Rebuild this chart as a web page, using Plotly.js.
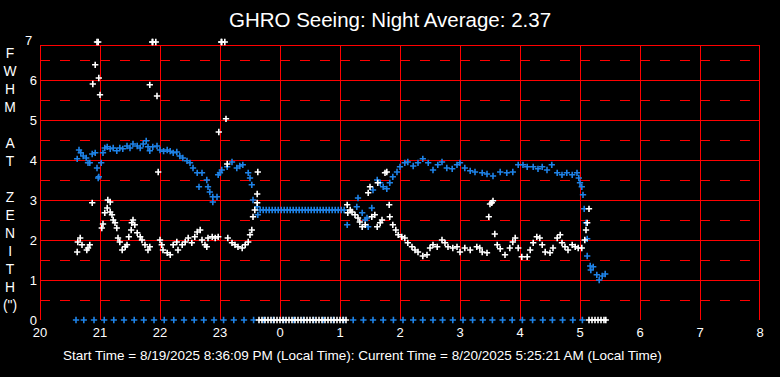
<!DOCTYPE html>
<html>
<head>
<meta charset="utf-8">
<script src="https://cdn.plot.ly/plotly-3.0.1.min.js"></script>
<style>html,body{margin:0;padding:0;background:#000;}#chart{width:780px;height:377px;}</style>
</head>
<body>
<div id="chart"></div>
<script>
// Hours since midnight of 8/19 (24 = midnight, 29 = 5 AM)
const tickHours = [20,21,22,23,24,25,26,27,28,29,30,31,32];
const tickLabels = ['20','21','22','23','0','1','2','3','4','5','6','7','8'];
const yTicks = [0,1,2,3,4,5,6];
const yHalfTicks = [0.5,1.5,2.5,3.5,4.5,5.5,6.5];

// Blue series (FWHM at zenith, arcsec)
const blueHours = [20.62,20.65,20.68,20.72,20.77,20.80,20.83,20.87,20.92,20.95,20.97,20.98,21.02,21.05,21.08,
  21.12,21.17,21.22,21.28,21.33,21.38,21.45,21.50,21.55,21.62,21.67,21.72,21.77,21.80,21.83,21.88,21.95,22.00,
  22.06,22.12,22.17,22.22,22.28,22.33,22.38,22.45,22.50,22.55,22.62,22.65,22.70,22.78,22.80,22.83,22.88,22.88,
  22.95,22.97,23.00,23.03,23.12,23.20,23.28,23.33,23.38,23.47,23.50,23.53,23.55,23.62,23.63,23.67,
  23.72,23.77,23.82,23.87,23.92,23.97,24.02,24.07,24.12,24.17,24.22,24.27,24.32,24.37,24.42,24.47,24.52,24.57,
  24.62,24.67,24.72,24.77,24.82,24.87,24.92,24.97,25.02,25.07,
  25.12,25.28,25.30,25.37,25.42,25.45,25.47,25.53,25.55,25.62,25.67,25.72,25.78,25.83,25.88,25.95,26.00,26.08,
  26.13,26.22,26.30,26.38,26.47,26.55,26.63,26.70,26.78,26.87,26.95,27.00,27.08,27.17,27.25,27.37,27.45,27.55,
  27.67,27.78,27.88,27.97,28.05,28.12,28.22,28.30,28.37,28.45,28.53,28.62,28.70,28.78,28.87,28.95,28.98,29.00,
  29.03,29.05,29.07,29.10,29.12,29.12,29.17,29.18,29.22,29.28,29.32,29.37,29.42];
const blueFwhm = [4.03,4.25,4.18,4.10,4.05,3.93,3.93,4.15,4.18,3.80,3.55,3.58,3.93,4.18,4.30,
  4.33,4.28,4.30,4.23,4.30,4.28,4.35,4.30,4.40,4.35,4.30,4.40,4.48,4.33,4.23,4.33,4.35,4.25,
  4.22,4.25,4.22,4.18,4.20,4.10,4.05,3.98,3.93,3.80,3.68,3.33,3.68,3.50,3.33,3.20,3.08,2.95,
  3.08,3.63,3.68,3.75,3.83,3.95,3.80,3.85,3.88,3.68,3.55,3.38,3.00,2.83,2.63,2.75,
  2.75,2.75,2.75,2.75,2.75,2.75,2.75,2.75,2.75,2.75,2.75,2.75,2.75,2.75,2.75,2.75,2.75,2.75,
  2.75,2.75,2.75,2.75,2.75,2.75,2.75,2.75,2.75,2.75,
  2.38,2.83,3.05,2.68,2.50,2.55,2.33,2.80,3.25,3.50,3.43,3.33,3.28,3.43,3.58,3.70,3.83,3.93,
  3.95,3.85,3.93,4.03,3.93,3.75,3.88,3.95,3.80,3.78,3.88,3.93,3.80,3.73,3.70,3.68,3.65,3.60,
  3.70,3.68,3.70,3.88,3.88,3.83,3.83,3.78,3.83,3.75,3.88,3.68,3.63,3.68,3.63,3.68,3.55,3.43,
  3.33,3.13,2.78,2.43,2.03,1.60,1.35,1.25,1.33,1.13,1.00,1.10,1.15];

// White series
const whiteHours = [20.62,20.63,20.67,20.70,20.78,20.80,20.83,20.87,20.88,20.92,20.95,20.97,20.98,21.00,21.03,
  21.05,21.08,21.12,21.13,21.17,21.17,21.20,21.22,21.25,21.28,21.30,21.33,21.37,21.42,21.45,21.48,21.52,21.53,
  21.55,21.58,21.62,21.67,21.70,21.75,21.80,21.83,21.83,21.87,21.88,21.93,21.95,21.97,22.00,22.03,22.05,22.12,
  22.17,22.22,22.28,22.30,22.37,22.42,22.47,22.53,22.58,22.62,22.67,22.70,22.75,22.78,22.80,22.87,22.92,22.97,
  22.98,23.02,23.03,23.08,23.10,23.12,23.13,23.20,23.25,23.30,23.37,23.42,23.47,23.50,23.53,23.55,23.58,23.62,
  23.62,23.63,
  25.12,25.13,25.17,25.20,25.25,25.30,25.33,25.37,25.42,25.47,25.50,25.53,25.58,25.62,25.63,25.67,25.70,25.75,
  25.78,25.82,25.83,25.88,25.93,25.97,26.03,26.08,26.13,26.20,26.25,26.30,26.38,26.45,26.50,26.55,26.62,26.70,
  26.75,26.80,26.88,26.95,27.00,27.08,27.17,27.28,27.33,27.37,27.45,27.48,27.50,27.53,27.55,27.58,27.62,27.67,
  27.75,27.83,27.88,27.92,27.97,28.03,28.12,28.17,28.22,28.28,28.33,28.37,28.42,28.50,28.55,28.62,28.67,28.70,
  28.75,28.80,28.87,28.92,28.97,29.03,29.08,29.10,29.12,29.15];
const whiteFwhm = [1.70,1.95,2.05,1.88,1.75,1.80,1.88,2.93,5.90,6.38,6.95,6.95,6.05,5.63,2.30,
  2.40,2.68,2.80,3.00,2.95,2.70,2.63,2.50,2.43,2.30,2.05,1.95,1.75,1.83,1.88,2.08,2.25,2.43,
  2.50,2.38,2.18,2.08,2.00,1.88,1.75,1.83,5.88,6.95,6.95,6.95,5.60,3.70,2.00,1.88,1.75,1.68,
  1.63,1.88,1.95,1.75,1.88,1.95,2.05,1.93,2.08,2.20,2.25,2.00,1.88,1.83,2.05,2.08,2.05,2.08,
  4.70,6.95,6.95,6.95,5.03,3.90,2.05,1.93,1.88,1.83,1.80,1.88,1.95,2.13,2.25,2.58,2.75,2.93,
  3.15,3.70,
  2.88,2.68,2.75,2.70,2.63,2.55,2.45,2.33,2.38,3.18,3.33,2.58,2.63,2.33,3.43,2.43,2.50,3.68,
  3.70,2.88,2.58,2.38,2.25,2.13,2.08,2.05,1.93,1.83,1.75,1.70,1.60,1.63,1.80,1.88,1.83,2.00,
  1.93,1.83,1.80,1.83,1.70,1.80,1.75,1.83,1.80,1.70,1.68,2.58,2.90,2.93,2.98,2.15,1.88,1.78,
  1.63,1.80,1.95,2.05,1.80,1.58,1.58,1.75,1.93,2.08,2.05,1.88,1.70,1.68,1.80,2.05,2.13,1.93,
  1.83,1.75,1.88,1.83,1.80,1.80,2.00,2.25,2.43,2.78];

// Markers along zero line
const zeroBlueHours = [20.60,20.73,20.90,21.07,21.23,21.40,21.57,21.73,21.90,22.07,22.23,22.40,22.57,22.73,22.90,
  23.06,23.23,23.40,23.56,23.73,23.89,24.06,24.23,24.39,24.56,24.72,24.89,25.06,25.22,25.39,25.55,25.72,25.89,
  26.05,26.22,26.38,26.55,26.71,26.88,27.05,27.21,27.38,27.54,27.71,27.87,28.04,28.21,28.38,28.54,28.71,28.88,29.04];
const zeroBlueFwhm = [0,0,0,0,0,0,0,0,0,0,0,0,0,0,0,0,0,0,0,0,0,0,0,0,0,0,0,0,0,0,0,0,0,0,0,0,0,0,0,0,0,0,0,0,0,0,0,0,0,0,0,0];
const zeroWhiteHours = [23.65,23.70,23.75,23.80,23.85,23.90,23.95,24.00,24.05,24.10,24.15,24.20,24.25,24.30,24.35,
  24.40,24.45,24.50,24.55,24.60,24.65,24.70,24.75,24.80,24.85,24.90,24.95,25.00,25.05,25.10,
  29.15,29.20,29.25,29.30,29.35,29.40,29.43];
const zeroWhiteFwhm = [0,0,0,0,0,0,0,0,0,0,0,0,0,0,0,0,0,0,0,0,0,0,0,0,0,0,0,0,0,0,0,0,0,0,0,0,0];

const BLUE = '#1e82e6';
const RED = '#ff0000';
const FONT = 'Liberation Sans, Arial, sans-serif';
const FRAME_TOP = 6.875 - 0.5/40;   // frame top edge (half-pixel aligned)
const HALF_PX_X = 0.5/60;           // half a pixel in hours, for crisp vertical lines
function mk(color){ return {symbol:'cross-thin-open', size:4.5, color:color, line:{color:color, width:1.6}}; }

const traces = [
  {x: blueHours, y: blueFwhm, mode:'markers', type:'scatter', marker: mk(BLUE), cliponaxis:false, hoverinfo:'skip'},
  {x: whiteHours, y: whiteFwhm, mode:'markers', type:'scatter', marker: mk('#ffffff'), cliponaxis:false, hoverinfo:'skip'},
  {x: zeroBlueHours, y: zeroBlueFwhm, mode:'markers', type:'scatter', marker: mk(BLUE), cliponaxis:false, hoverinfo:'skip'},
  {x: zeroWhiteHours, y: zeroWhiteFwhm, mode:'markers', type:'scatter', marker: mk('#ffffff'), cliponaxis:false, hoverinfo:'skip'}
];

// frame: vertical hour lines and top border
const shapes = tickHours.map(h => ({type:'line', xref:'x', yref:'y', x0:h + (h === 32 ? -HALF_PX_X : HALF_PX_X),
  x1:h + (h === 32 ? -HALF_PX_X : HALF_PX_X), y0:0, y1:FRAME_TOP, line:{color:RED, width:1}, layer:'below'}));
shapes.push({type:'line', xref:'x', yref:'y', x0:20, x1:32, y0:FRAME_TOP, y1:FRAME_TOP, line:{color:RED, width:1}, layer:'below'});

const layout = {
  width: 780, height: 377,
  margin: {l:40, r:20, t:40, b:57, pad:0},
  paper_bgcolor:'#000', plot_bgcolor:'#000',
  showlegend:false,
  font:{family:FONT, color:'#fff'},
  title:{text:'GHRO Seeing: Night Average: 2.37', font:{family:FONT, size:20.5, color:'#fff'},
         x:0.5, xanchor:'center', y:1-20/377, yanchor:'middle', yref:'container'},
  xaxis:{range:[20,32], tickmode:'array', tickvals:tickHours, ticktext:tickLabels,
         showgrid:false, zeroline:false, showline:false, ticklabelstandoff:3,
         ticks:'', tickfont:{family:FONT, size:13, color:'#fff'}, fixedrange:true},
  yaxis:{range:[0,7], tickmode:'array', tickvals:yTicks,
         showgrid:true, gridcolor:RED, gridwidth:1, zeroline:false,
         minor:{tickmode:'array', tickvals:yHalfTicks, showgrid:true, gridcolor:RED, gridwidth:1, griddash:'10px,10px', ticks:''},
         showline:false, ticklabelstandoff:2,
         ticks:'', tickfont:{family:FONT, size:13, color:'#fff'}, fixedrange:true},
  shapes: shapes,
  annotations:[
    {text:'7', xref:'paper', yref:'paper', x:-6/720, y:1, xanchor:'right', yanchor:'middle', showarrow:false,
     font:{family:FONT, size:13, color:'#fff'}},
    {text:'F<br>W<br>H<br>M<br> <br>A<br>T<br> <br>Z<br>E<br>N<br>I<br>T<br>H<br>(")', xref:'paper', yref:'paper',
     x:(11-40)/720, y:(320-179)/280, xanchor:'center', yanchor:'middle', showarrow:false, align:'center',
     font:{family:FONT, size:13.85, color:'#fff'}},
    {text:'Start Time = 8/19/2025 8:36:09 PM (Local Time): Current Time = 8/20/2025 5:25:21 AM (Local Time)',
     xref:'paper', yref:'paper', x:(362.5-40)/720, y:-(355-320)/280, xanchor:'center', yanchor:'middle', showarrow:false,
     font:{family:FONT, size:13.5, color:'#fff'}}
  ]
};

Plotly.newPlot('chart', traces, layout, {staticPlot:true, displayModeBar:false});
</script>
</body>
</html>
